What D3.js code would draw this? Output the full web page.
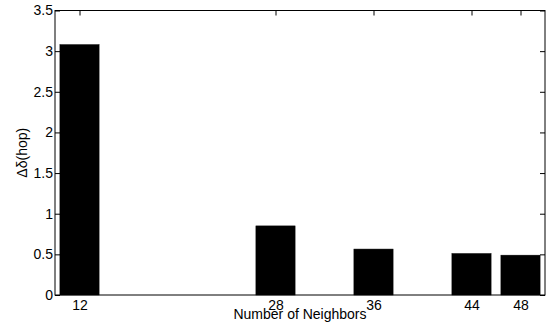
<!DOCTYPE html>
<html>
<head>
<meta charset="utf-8">
<script src="https://cdn.jsdelivr.net/npm/d3@7"></script>
<style>
body { margin: 0; background: #fff; }
text { font-family: Arial, "Liberation Sans", sans-serif; }
</style>
</head>
<body>
<svg id="chart"></svg>
<script>
var width = 550;
var height = 329;

var neighbors = [12, 28, 36, 44, 48];
var deltaHop = [3.08, 0.85, 0.565, 0.51, 0.49];
var yTicks = [0, 0.5, 1, 1.5, 2, 2.5, 3, 3.5];

var plotLeft = 55, plotRight = 545, plotTop = 10.5, plotBottom = 295;

var svg = d3.select("#chart")
	.attr("width", width)
	.attr("height", height);

var x = d3.scaleLinear()
	.domain([10, 50])
	.range([plotLeft, plotRight]);

var y = d3.scaleLinear()
	.domain([0, 3.5])
	.range([plotBottom, plotTop]);

// bar width = 0.8 of the smallest spacing (4)
var barW = x(10 + 3.2) - x(10);

svg.append("g")
	.selectAll("rect")
	.data(neighbors)
	.enter()
	.append("rect")
	.attr("x", (d) => x(d) - barW / 2)
	.attr("y", (d, i) => y(deltaHop[i]))
	.attr("width", barW)
	.attr("height", (d, i) => y(0) - y(deltaHop[i]))
	.attr("fill", "black")
	.attr("stroke", "black")
	.attr("stroke-width", 0.5);

// box
svg.append("rect")
	.attr("x", plotLeft)
	.attr("y", plotTop)
	.attr("width", plotRight - plotLeft)
	.attr("height", plotBottom - plotTop)
	.attr("fill", "none")
	.attr("stroke", "black")
	.attr("stroke-width", 1);

var tickLen = 5;

var yAxisL = d3.axisLeft(y).tickValues(yTicks).tickSize(-tickLen).tickPadding(2).tickFormat(d3.format(""));
var gyL = svg.append("g")
	.attr("transform", "translate(" + plotLeft + ",0)")
	.call(yAxisL);

var yAxisR = d3.axisRight(y).tickValues(yTicks).tickSize(-tickLen).tickFormat("");
var gyR = svg.append("g")
	.attr("transform", "translate(" + plotRight + ",0)")
	.call(yAxisR);

var xAxisB = d3.axisBottom(x).tickValues(neighbors).tickSize(-tickLen).tickPadding(5);
var gxB = svg.append("g")
	.attr("transform", "translate(0," + plotBottom + ")")
	.call(xAxisB);

var xAxisT = d3.axisTop(x).tickValues(neighbors).tickSize(-tickLen).tickFormat("");
var gxT = svg.append("g")
	.attr("transform", "translate(0," + plotTop + ")")
	.call(xAxisT);

[gyL, gyR, gxB, gxT].forEach(function (g) {
	g.select(".domain").remove();
	g.selectAll("line").attr("stroke", "black");
	g.selectAll("text")
		.attr("fill", "black")
		.style("font-size", "14px");
});

svg.append("text")
	.attr("x", (plotLeft + plotRight) / 2)
	.attr("y", 319)
	.style("text-anchor", "middle")
	.style("font-size", "14px")
	.text("Number of Neighbors");

svg.append("text")
	.attr("transform", "translate(27," + ((plotTop + plotBottom) / 2) + ") rotate(-90)")
	.style("text-anchor", "middle")
	.style("font-size", "14px")
	.text("Δδ(hop)");
</script>
</body>
</html>
